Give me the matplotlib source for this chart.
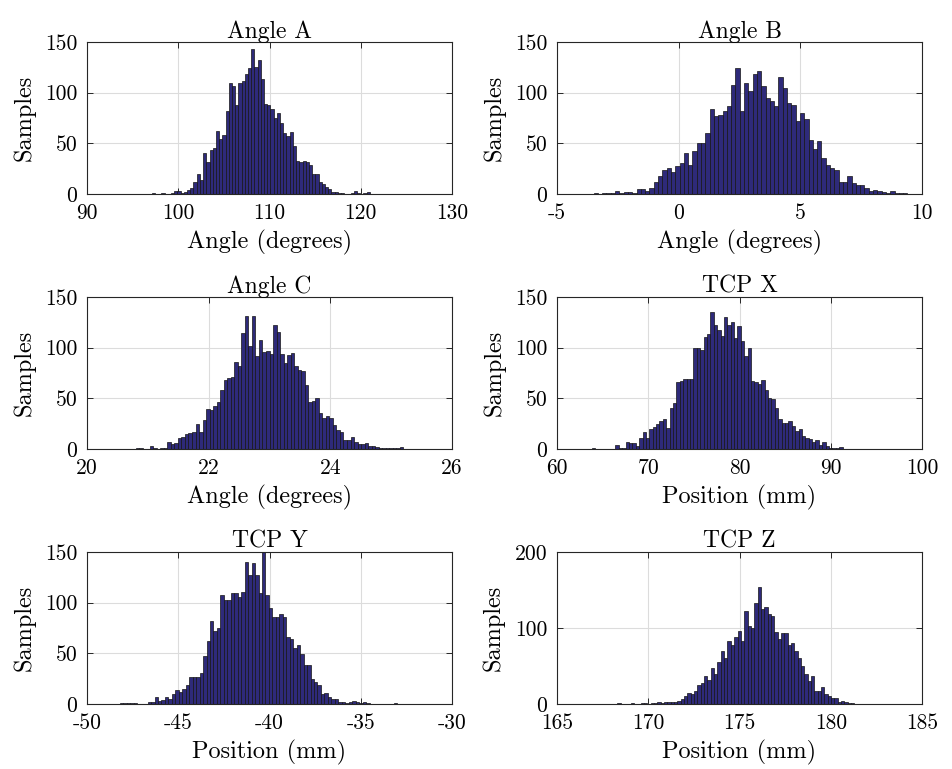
import numpy as np
import matplotlib
matplotlib.use("Agg")
import matplotlib.pyplot as plt

plt.rcParams['font.family'] = ['cmr10', 'DejaVu Serif']
plt.rcParams['axes.unicode_minus'] = False
plt.rcParams['axes.formatter.use_mathtext'] = False

# ---------------- data (counts per bin) ----------------
titles = ["Angle A", "Angle B", "Angle C", "TCP X", "TCP Y", "TCP Z"]
xlabels = ["Angle (degrees)", "Angle (degrees)", "Angle (degrees)",
           "Position (mm)", "Position (mm)", "Position (mm)"]

angle_a_range = (97.1, 121.0)
angle_a = [1,0,0,1,0,0,1,3,3,1, 2,4,6,12,20,14,40,32,43,45, 62,54,58,82,110,107,88,110,112,118,
           124,143,125,132,113,89,88,84,75,80, 70,60,57,61,47,33,32,33,32,29, 20,20,12,10,7,5,2,2,1,1,
           0,0,1,3,1,0,1,2]

angle_b_range = (-3.5, 9.4)
angle_b = [1,0,1,1,1,3,1,2,2,1, 5,5,3,6,12,18,24,26,22,28, 31,40,29,42,50,50,60,84,77,78,
           82,87,108,124,82,110,102,118,121,107, 95,92,87,115,105,90,88,72,80,74,
           53,44,52,36,29,26,24,12,12,18, 11,9,9,6,3,4,3,2,1,3, 1,1,1]

angle_c_range = (20.8, 25.2)
angle_c = [1,1,0,0,3,1,0,1,1,7, 5,6,11,12,15,16,17,25,17,29, 39,38,42,46,58,68,70,71,86,82,
           114,131,102,131,92,108,96,97,94,122, 115,94,85,93,95,82,78,77,63,46,
           47,50,36,31,33,31,24,19,17,9, 9,12,7,5,5,6,3,3,2,1, 1,1,1,1,1,2]

tcp_x_range = (63.8, 91.3)
tcp_x = [1,0,0,0,0,0,0,4,1,1, 7,6,6,3,11,17,11,20,22,25, 28,30,21,40,45,66,67,69,69,69,
         100,100,98,111,113,135,122,117,112,130, 122,125,110,121,107,92,100,67,66,64,
         68,58,50,49,40,30,26,26,28,23, 18,20,13,11,10,7,9,4,7,3, 1,1,1,2]

tcp_y_range = (-48.2, -33.0)
tcp_y = [1,1,1,1,1,0,0,0,2,2, 7,3,4,7,5,10,14,12,15,19, 27,27,27,31,47,62,82,72,75,108,
         103,103,110,110,106,111,140,127,139,127, 110,150,108,95,86,86,89,86,66,64,
         55,58,49,38,38,25,22,19,10,11, 7,5,5,2,2,1,2,3,2,1, 2,1,0,0,0,0,0,0,0,1]

tcp_z_range = (168.3, 181.3)
tcp_z = [1,0,0,0,1,0,0,1,1,0, 1,1,2,1,2,3,2,3,4,6, 10,15,13,17,25,28,37,31,47,39,
         55,70,60,83,77,88,96,83,123,103, 100,133,154,125,127,118,116,95,85,94,
         93,78,80,70,60,50,40,30,37,17, 17,22,13,11,8,8,3,4,2,1, 1]

xticks_list = [[90, 100, 110, 120, 130], [-5, 0, 5, 10], [20, 22, 24, 26],
               [60, 70, 80, 90, 100], [-50, -45, -40, -35, -30], [165, 170, 175, 180, 185]]
yticks_list = [[0, 50, 100, 150]] * 5 + [[0, 100, 200]]

series = [angle_a, angle_b, angle_c, tcp_x, tcp_y, tcp_z]
ranges = [angle_a_range, angle_b_range, angle_c_range, tcp_x_range, tcp_y_range, tcp_z_range]

# ---------------- figure ----------------
W, H = 952, 769
fig = plt.figure(figsize=(W / 100, H / 100), dpi=100)

lefts = [87, 557]
tops = [42, 297, 552]
aw, ah = 365, 152

face = '#2E2A7A'

for i in range(6):
    r, c = divmod(i, 2)
    l = lefts[c]; t = tops[r]
    ax = fig.add_axes([l / W, 1 - (t + ah) / H, aw / W, ah / H])
    counts = np.array(series[i], dtype=float)
    edges = np.linspace(ranges[i][0], ranges[i][1], len(counts) + 1)
    ax.bar(edges[:-1], counts, width=np.diff(edges), align='edge',
           color=face, edgecolor='#151515', linewidth=0.5, zorder=2)
    xt = xticks_list[i]; yt = yticks_list[i]
    ax.set_xlim(xt[0], xt[-1])
    ax.set_ylim(yt[0], yt[-1])
    ax.set_xticks(xt)
    ax.set_yticks(yt)
    ax.set_xticklabels([str(v) for v in xt])
    ax.set_yticklabels([str(v) for v in yt])
    ax.grid(True, color='#dcdcdc', linewidth=0.8, zorder=0)
    ax.set_axisbelow(True)
    ax.tick_params(direction='in', top=True, right=True, length=4, width=0.7,
                   labelsize=15.5, pad=7, colors='#262626')
    ax.tick_params(labelcolor='black')
    for s in ax.spines.values():
        s.set_linewidth(0.8)
        s.set_color('#262626')
    ax.set_title(titles[i], fontsize=17, pad=3)
    ax.set_xlabel(xlabels[i], fontsize=17.5, labelpad=5)
    ax.set_ylabel("Samples", fontsize=17.5, labelpad=7)

fig.savefig("out.png", dpi=100)
